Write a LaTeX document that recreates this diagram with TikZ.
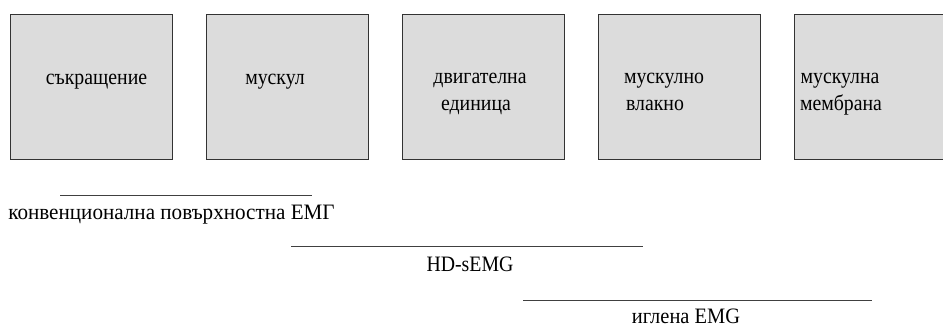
\documentclass[tikz,border=0pt]{standalone}
\usepackage{fontspec}
\setmainfont{Liberation Serif}
\definecolor{boxgray}{HTML}{DCDCDC}
\tikzset{
  box/.style={draw=black!80, line width=1.1pt, fill=boxgray, rectangle, inner sep=0pt,
              minimum width=162pt, minimum height=145pt, anchor=north west},
  lbl/.style={anchor=base, inner sep=0pt, transform shape, xscale=0.9,
              font=\fontsize{22}{26}\selectfont},
  spanline/.style={draw=black!75, line width=0.9pt}
}
\begin{document}
\begin{tikzpicture}[x=1pt,y=-1pt]
  \useasboundingbox (0,0) rectangle (943,326);
  \clip (0,0) rectangle (943,326);

  % the five levels
  \node[box] (b1) at (10,14) {};
  \node[box] (b2) at (206,14) {};
  \node[box] (b3) at (402,14) {};
  \node[box] (b4) at (598,14) {};
  \node[box] (b5) at (794,14) {};

  \node[lbl] (t1) at (96.5,85) {съкращение};
  \node[lbl] (t2) at (275,85) {мускул};
  \node[lbl] (t3a) at (480,84) {двигателна};
  \node[lbl] (t3b) at (476,111) {единица};
  \node[lbl] (t4a) at (664,84) {мускулно};
  \node[lbl] (t4b) at (655,111) {влакно};
  \node[lbl] (t5a) at (840,84) {мускулна};
  \node[lbl] (t5b) at (841,111) {мембрана};

  % spans of the recording methods
  \coordinate (s1a) at (60,195);  \coordinate (s1b) at (312,195);
  \coordinate (s2a) at (291,246); \coordinate (s2b) at (643,246);
  \coordinate (s3a) at (523,300); \coordinate (s3b) at (872,300);
  \draw[spanline] (s1a) -- (s1b);
  \draw[spanline] (s2a) -- (s2b);
  \draw[spanline] (s3a) -- (s3b);

  \node[lbl, xscale=1.067] (m1) at (171.5,219) {конвенционална повърхностна ЕМГ};
  \node[lbl] (m2) at (470,271) {HD-sEMG};
  \node[lbl, xscale=1.033] (m3) at (686,323) {иглена EMG};
\end{tikzpicture}
\end{document}
